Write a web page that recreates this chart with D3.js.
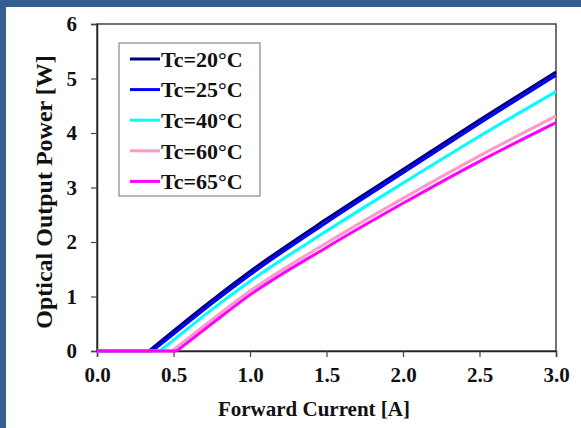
<!DOCTYPE html>
<html>
<head>
<meta charset="utf-8">
<script src="https://cdn.jsdelivr.net/npm/d3@7"></script>
<style>
body { margin: 0; background: #fff; }
svg { display: block; }
text { font-family: "Liberation Serif", "Times New Roman", serif; font-weight: bold; fill: #111; }
</style>
</head>
<body>
<svg id="chart" width="581" height="428"></svg>
<script>
// data (current in A, power in W)
const series = ["Tc=20°C", "Tc=25°C", "Tc=40°C", "Tc=60°C", "Tc=65°C"];
const colors = ["#000080", "#0000ff", "#00ffff", "#ff99cc", "#ff00ff"];
const thresholds = [0.34, 0.36, 0.41, 0.49, 0.52];
const tc20 = [[0.34, 0], [0.5, 0.37], [0.75, 0.93], [1.0, 1.46], [1.5, 2.42], [2.0, 3.33], [2.5, 4.24], [3.0, 5.12]];
const tc25 = [[0.36, 0], [0.5, 0.31], [0.75, 0.87], [1.0, 1.4], [1.5, 2.36], [2.0, 3.27], [2.5, 4.18], [3.0, 5.06]];
const tc40 = [[0.41, 0], [0.5, 0.2], [0.75, 0.76], [1.0, 1.28], [1.5, 2.2], [2.0, 3.08], [2.5, 3.94], [3.0, 4.76]];
const tc60 = [[0.49, 0], [0.75, 0.57], [1.0, 1.1], [1.5, 1.98], [2.0, 2.8], [2.5, 3.58], [3.0, 4.31]];
const tc65 = [[0.52, 0], [0.75, 0.5], [1.0, 1.03], [1.5, 1.9], [2.0, 2.71], [2.5, 3.48], [3.0, 4.19]];
const xTicks = [0, 0.5, 1.0, 1.5, 2.0, 2.5, 3.0];
const yTicks = [0, 1, 2, 3, 4, 5, 6];

const allSeries = [tc20, tc25, tc40, tc60, tc65];

const svg = d3.select("#chart");

// blue frame of the slide (top and left)
svg.append("rect").attr("x", 0).attr("y", 0).attr("width", 581).attr("height", 7).attr("fill", "#355f91");
svg.append("rect").attr("x", 0).attr("y", 0).attr("width", 6).attr("height", 428).attr("fill", "#355f91");

const mLeft = 97, mRight = 556, mTop = 24, mBottom = 351;

const x = d3.scaleLinear().domain([0, 3]).range([mLeft, mRight]);
const y = d3.scaleLinear().domain([0, 6]).range([mBottom, mTop]);

// plot frame
svg.append("rect")
  .attr("x", mLeft).attr("y", mTop)
  .attr("width", mRight - mLeft).attr("height", mBottom - mTop)
  .attr("fill", "none").attr("stroke", "#444").attr("stroke-width", 1.5);

// axes
const xAxis = svg.append("g")
  .attr("transform", `translate(0,${mBottom})`)
  .call(d3.axisBottom(x).tickValues(xTicks).tickFormat(d3.format(".1f")).tickSize(6).tickPadding(10));
const yAxis = svg.append("g")
  .attr("transform", `translate(${mLeft},0)`)
  .call(d3.axisLeft(y).tickValues(yTicks).tickFormat(d3.format("d")).tickSize(6).tickPadding(14));

[xAxis, yAxis].forEach(a => {
  a.attr("font-family", null);
  a.select(".domain").attr("stroke", "#222").attr("stroke-width", 1.5);
  a.selectAll(".tick line").attr("stroke", "#444").attr("stroke-width", 1.2);
  a.selectAll(".tick text").style("font-family", "'Liberation Serif', serif")
    .style("font-weight", "bold").style("font-size", "21px").attr("fill", "#111");
});

// curves: flat part below threshold, then the rising part
const flat = d3.line().x(d => x(d[0])).y(d => y(d[1]));
const rise = d3.line().x(d => x(d[0])).y(d => y(d[1])).curve(d3.curveMonotoneX);

const curves = svg.append("g").selectAll("g")
  .data(allSeries.map((s, i) => ({ s, i })).reverse().sort((a, b) => a.i - b.i))
  .join("g");

curves.append("path")
  .attr("d", d => rise(d.s))
  .attr("fill", "none")
  .attr("stroke", d => colors[d.i])
  .attr("stroke-width", 3)
  .attr("stroke-linejoin", "round");

curves.append("path")
  .attr("d", d => flat([[0, 0], [thresholds[d.i], 0]]))
  .attr("fill", "none")
  .attr("stroke", d => colors[d.i])
  .attr("stroke-width", 3);

// axis titles
svg.append("text")
  .attr("x", 314).attr("y", 416)
  .attr("text-anchor", "middle")
  .style("font-size", "21px")
  .text("Forward Current [A]");

svg.append("text")
  .attr("transform", `translate(52,192) rotate(-90)`)
  .attr("text-anchor", "middle")
  .style("font-size", "24px")
  .text("Optical Output Power [W]");

// legend
const legend = svg.append("g").attr("transform", "translate(119,43)");
legend.append("rect")
  .attr("width", 141).attr("height", 153)
  .attr("fill", "#fff").attr("stroke", "#888").attr("stroke-width", 1.2);

const items = legend.selectAll(".item")
  .data(series)
  .join("g")
  .attr("transform", (d, i) => `translate(0,${16 + i * 30.6})`);

items.append("line")
  .attr("x1", 11).attr("x2", 41)
  .attr("stroke", (d, i) => colors[i])
  .attr("stroke-width", 3);

items.append("text")
  .attr("x", 42).attr("dy", "0.35em")
  .style("font-size", "22px")
  .text(d => d);
</script>
</body>
</html>
